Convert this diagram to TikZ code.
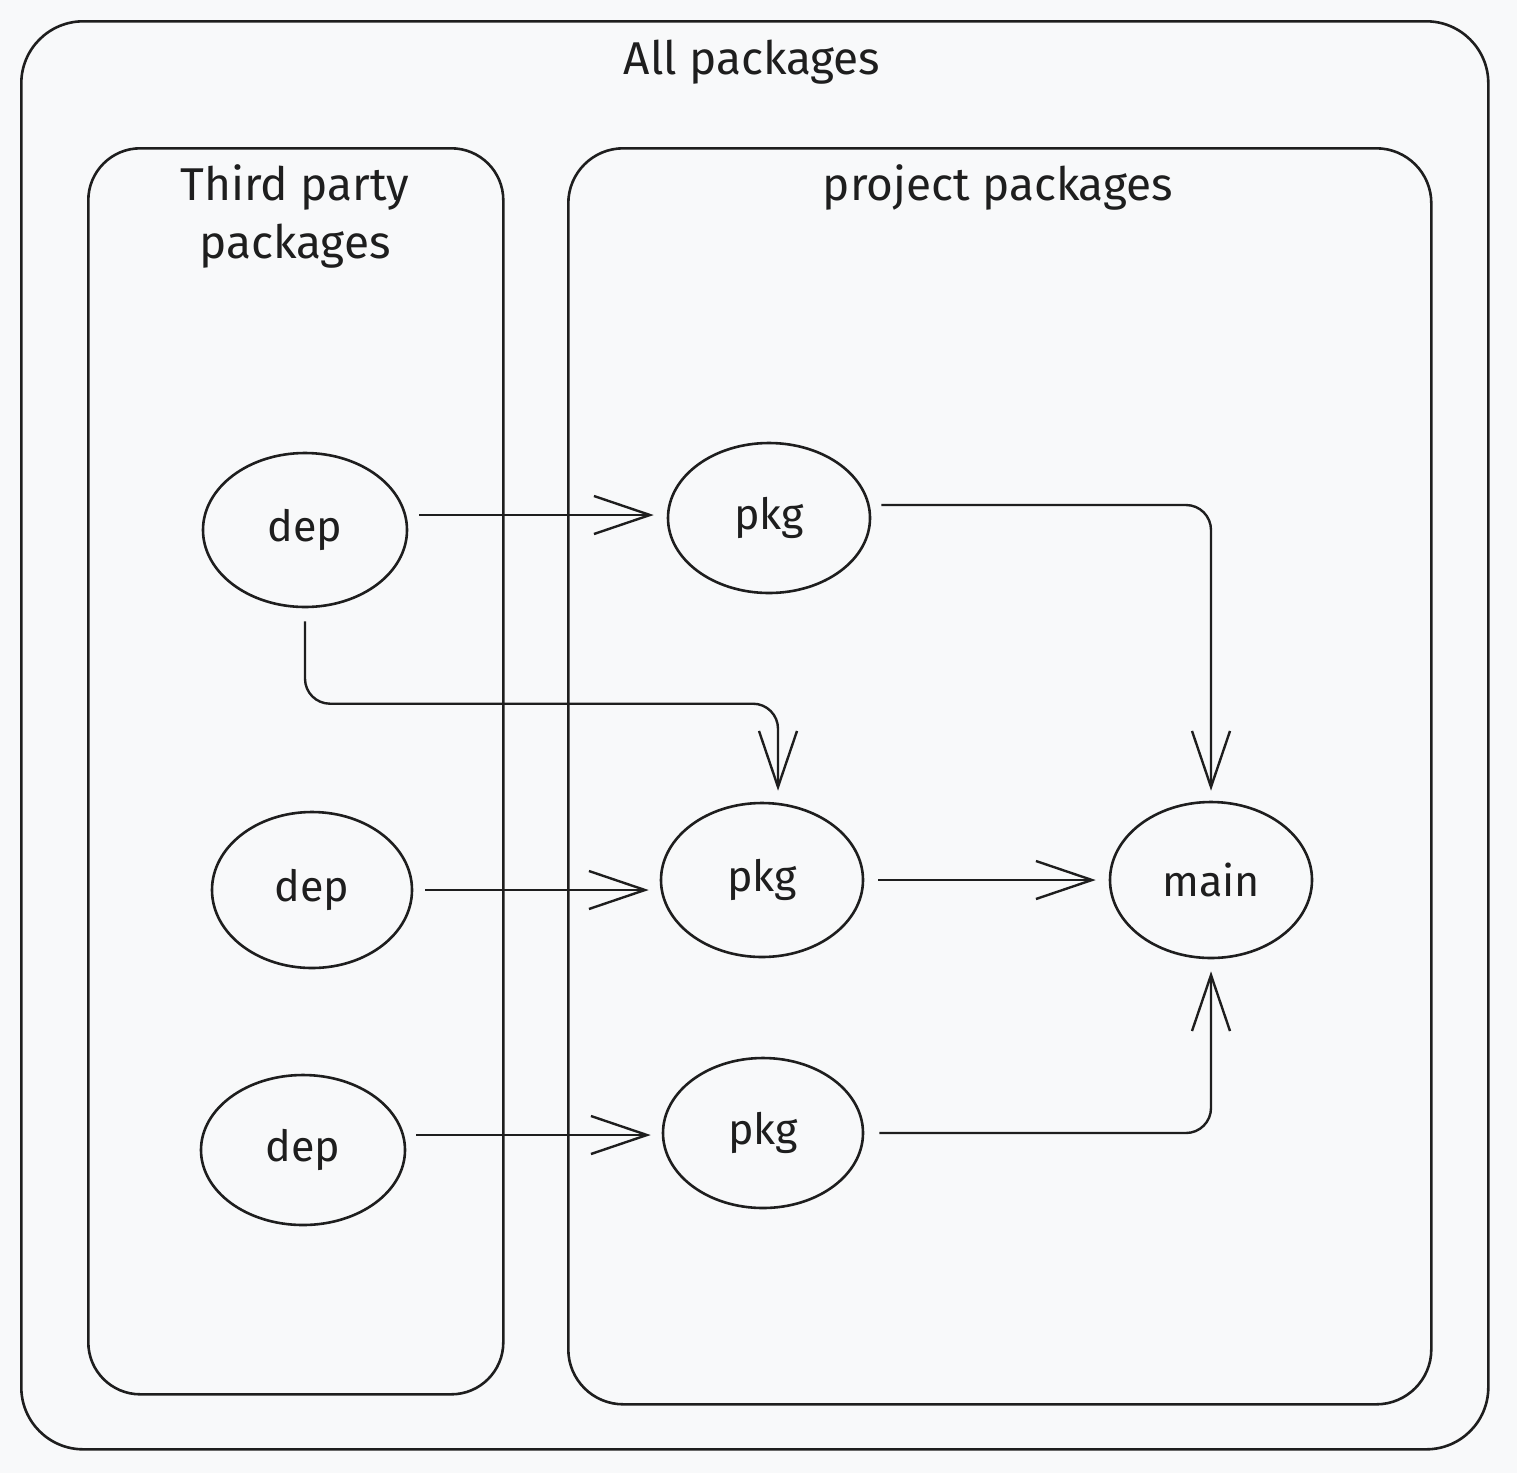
\documentclass[tikz,border=0pt]{standalone}
\usepackage{fontspec}
\setmainfont{Fira Sans}
\usetikzlibrary{arrows.meta,shapes.geometric,calc}
\definecolor{bg}{HTML}{F8F9FA}
\definecolor{ink}{HTML}{1E1E1E}
\begin{document}
\begin{tikzpicture}[x=1pt,y=-1pt,
  box/.style={draw=ink,line width=2.6pt,rounded corners=#1,anchor=north west,inner sep=0pt},
  title/.style={font=\fontsize{46}{58}\selectfont,text=ink,align=center},
  pkgnode/.style={draw=ink,line width=2.6pt,ellipse,minimum width=#1,inner sep=0pt,font=\fontsize{43}{48}\selectfont,text=ink},
  arr/.style={draw=ink,line width=2.4pt,-{Straight Barb[length=56pt,width=38pt,line width=2.4pt]}}
]
\fill[bg] (0,0) rectangle (1517,1473);
\useasboundingbox (0,0) rectangle (1517,1473);

% containers
\node[box=62pt,minimum width=1467pt,minimum height=1428pt] (outer) at (20,20) {};
\node[box=52pt,minimum width=415pt,minimum height=1246pt] (third) at (87,147) {};
\node[box=55pt,minimum width=863pt,minimum height=1256pt] (proj) at (567,147) {};

\node[title] (tall) at (752,62) {All packages};
\node[title] (tthird) at (295,216) {Third party\\packages};
\node[title] (tproj) at (998,187) {project packages};

% nodes
\node[pkgnode=204pt,minimum height=154pt] (dep1) at (305,530) {dep};
\node[pkgnode=200pt,minimum height=156pt] (dep2) at (312,890) {dep};
\node[pkgnode=204pt,minimum height=150pt] (dep3) at (303,1150) {dep};
\node[pkgnode=202pt,minimum height=150pt] (pkg1) at (769,518) {pkg};
\node[pkgnode=202pt,minimum height=154pt] (pkg2) at (762,880) {pkg};
\node[pkgnode=200pt,minimum height=150pt] (pkg3) at (763,1133) {pkg};
\node[pkgnode=202pt,minimum height=156pt] (main) at (1211,880) {main};

% connectors
\draw[arr] ([xshift=11pt,yshift=15pt]dep1.east) -- ([xshift=-13pt,yshift=3pt]pkg1.west);
\draw[arr,rounded corners=25pt] ([yshift=-13pt]dep1.south) |- ([xshift=16pt,yshift=98pt]pkg2.north) -- ([xshift=16pt,yshift=11pt]pkg2.north);
\draw[arr] ([xshift=12pt]dep2.east) -- ([xshift=-11pt]dep2.east -| pkg2.west);
\draw[arr] ([xshift=10pt,yshift=15pt]dep3.east) -- ([xshift=-11pt,yshift=-2pt]pkg3.west);
\draw[arr,rounded corners=25pt] ([xshift=10pt,yshift=13pt]pkg1.east) -| ([yshift=10pt]main.north);
\draw[arr] ([xshift=14pt]pkg2.east) -- ([xshift=-13pt]main.west);
\draw[arr,rounded corners=25pt] ([xshift=15pt]pkg3.east) -| ([yshift=-12pt]main.south);
\end{tikzpicture}
\end{document}
